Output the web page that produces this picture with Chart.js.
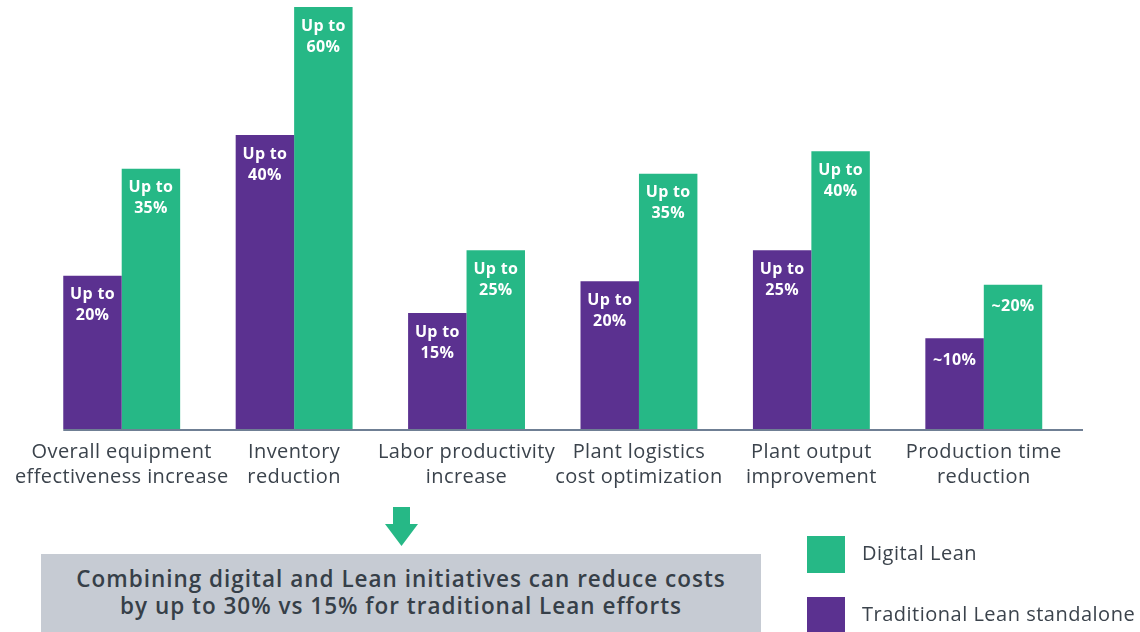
<!DOCTYPE html>
<html>
<head>
<meta charset="utf-8">
<script src="https://cdn.jsdelivr.net/npm/chart.js@4.4.1/dist/chart.umd.min.js"></script>
<style>
  html, body { margin: 0; padding: 0; background: #ffffff; }
  #wrap { position: relative; width: 1140px; height: 632px; overflow: hidden; font-family: "Open Sans", Lato, sans-serif; }
  #chart { position: absolute; left: 0; top: 0; }
  #box { position: absolute; left: 41px; top: 554px; width: 720px; height: 80px; background: #c6cbd3;
         color: #363f48; font-weight: 600; font-size: 22.5px; line-height: 27px; text-align: center; letter-spacing: 1px;
         box-sizing: border-box; padding-top: 11px; white-space: nowrap; }
  #arrow { position: absolute; left: 385px; top: 507px; }
  .leg { position: absolute; left: 807px; width: 38px; height: 37px; }
  .legtxt { position: absolute; left: 862px; font-size: 20px; color: #3b434c; line-height: 24px; white-space: nowrap; letter-spacing: 0.5px; }
</style>
</head>
<body>
<div id="wrap">
  <canvas id="chart" width="1140" height="632"></canvas>
  <svg id="arrow" width="34" height="40" viewBox="0 0 34 40">
    <polygon points="8,0 25,0 25,17 33,17 16.5,39 0,17 8,17" fill="#26b886"/>
  </svg>
  <div id="box"></div>
  <div class="leg" id="legG" style="top:536px;"></div>
  <div class="legtxt" id="legGt" style="top:541px;"></div>
  <div class="leg" id="legP" style="top:597px;"></div>
  <div class="legtxt" id="legPt" style="top:602px;"></div>
</div>
<script>
// ---- data ----
const categories = [
  ["Overall equipment", "effectiveness increase"],
  ["Inventory", "reduction"],
  ["Labor productivity", "increase"],
  ["Plant logistics", "cost optimization"],
  ["Plant output", "improvement"],
  ["Production time", "reduction"]
];
const seriesNames = ["Traditional Lean standalone", "Digital Lean"];
const traditionalValues = [21.8, 41.8, 16.5, 21.0, 25.4, 12.9];
const digitalValues = [37.0, 60.0, 25.4, 36.3, 39.5, 20.5];
const traditionalLabels = ["Up to\n20%", "Up to\n40%", "Up to\n15%", "Up to\n20%", "Up to\n25%", "~10%"];
const digitalLabels = ["Up to\n35%", "Up to\n60%", "Up to\n25%", "Up to\n35%", "Up to\n40%", "~20%"];
const summaryLines = ["Combining digital and Lean initiatives can reduce costs", "by up to 30% vs 15% for traditional Lean efforts"];
const yMin = 0, yMax = 60;

// ---- styles ----
const PURPLE = "#5b3190";
const GREEN = "#26b886";
const AXIS = "#6f7f94";
const TEXT = "#3b434c";
const FONT = "'Open Sans', Lato, sans-serif";

document.getElementById("box").innerHTML = summaryLines.join("<br>");
document.getElementById("legG").style.background = GREEN;
document.getElementById("legP").style.background = PURPLE;
document.getElementById("legGt").textContent = seriesNames[1];
document.getElementById("legPt").textContent = seriesNames[0];

const spacingPlugin = {
  id: "spacing",
  beforeDraw(chart) { chart.ctx.letterSpacing = "0.4px"; }
};

const barLabelPlugin = {
  id: "barLabels",
  afterDatasetsDraw(chart) {
    const ctx = chart.ctx;
    const sets = [traditionalLabels, digitalLabels];
    ctx.save();
    ctx.letterSpacing = "0.3px";
    ctx.fillStyle = "#ffffff";
    ctx.font = "700 16px " + FONT;
    ctx.textAlign = "center";
    ctx.textBaseline = "middle";
    chart.data.datasets.forEach((ds, di) => {
      const meta = chart.getDatasetMeta(di);
      meta.data.forEach((bar, i) => {
        const lines = sets[di][i].split("\n");
        if (lines.length === 1) {
          ctx.fillText(lines[0], bar.x, bar.y + 22);
        } else {
          lines.forEach((ln, k) => ctx.fillText(ln, bar.x, bar.y + 19 + k * 21));
        }
      });
    });
    ctx.restore();
  }
};

const baseLinePlugin = {
  id: "baseLine",
  afterDatasetsDraw(chart) {
    const ctx = chart.ctx;
    const first = chart.getDatasetMeta(0).data[0];
    const y = chart.scales.y.getPixelForValue(0);
    ctx.save();
    ctx.strokeStyle = AXIS;
    ctx.lineWidth = 2;
    ctx.beginPath();
    ctx.moveTo(first.x - first.width / 2, y + 1);
    ctx.lineTo(chart.chartArea.right + 13, y + 1);
    ctx.stroke();
    ctx.restore();
  }
};

new Chart(document.getElementById("chart"), {
  type: "bar",
  data: {
    labels: categories,
    datasets: [
      { label: seriesNames[0], data: traditionalValues, backgroundColor: PURPLE, borderWidth: 0 },
      { label: seriesNames[1], data: digitalValues, backgroundColor: GREEN, borderWidth: 0 }
    ]
  },
  options: {
    responsive: false,
    animation: false,
    events: [],
    layout: { padding: { left: 35.5, right: 70, top: 7, bottom: 0 } },
    datasets: { bar: { barPercentage: 1.0, categoryPercentage: 0.678 } },
    plugins: { legend: { display: false }, tooltip: { enabled: false } },
    scales: {
      x: {
        grid: { display: false, drawTicks: false },
        border: { display: false },
        ticks: { color: TEXT, font: { family: FONT, size: 20, lineHeight: 1.25 }, padding: 11, maxRotation: 0, autoSkip: false },
        afterFit(scale) { scale.height = 203; }
      },
      y: {
        display: false,
        min: yMin, max: yMax
      }
    }
  },
  plugins: [spacingPlugin, barLabelPlugin, baseLinePlugin]
});
</script>
</body>
</html>
